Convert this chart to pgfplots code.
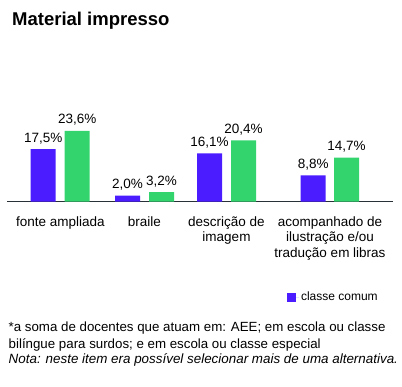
\documentclass[border=0pt]{standalone}
\usepackage{pgfplots}
\pgfplotsset{compat=1.18}
\usepackage{fontspec}
\setmainfont{Liberation Sans}
\definecolor{cblue}{RGB}{75,28,255}
\definecolor{cgreen}{RGB}{51,212,110}
\definecolor{axline}{RGB}{40,48,56}
\begin{document}
\begin{tikzpicture}
\path[use as bounding box] (0pt,0pt) rectangle (402pt,387pt);
\node[anchor=base west, inner sep=0pt, font=\fontsize{18.5}{20}\selectfont\bfseries] at (12pt,361pt) {Material impresso};
\begin{axis}[
  at={(7pt,185.3pt)}, anchor=south west,
  scale only axis, width=386pt, height=90pt,
  xmin=7, xmax=393, ymin=0, ymax=30,
  axis x line*=bottom, axis y line=none,
  x axis line style={axline, line width=0.9pt},
  ybar, bar width=25pt,
  xtick={60.3,144.5,226.5,330},
  xticklabels={fonte ampliada, braile, {descrição de\\imagem}, {acompanhado de\\ilustração e/ou\\tradução em libras}},
  x tick label style={align=center, font=\fontsize{13.5}{15.5}\selectfont, anchor=north, inner sep=0pt, yshift=-14.5pt},
  major tick length=0pt,
  /pgf/number format/assume math mode=true,
  nodes near coords={\pgfmathprintnumber[fixed,fixed zerofill,precision=1,use comma]{\pgfplotspointmeta}\%},
  every node near coord/.append style={anchor=base, yshift=7pt, inner sep=0pt, font=\fontsize{13.5}{15}\selectfont, black},
  legend style={at={(axis description cs:0.725,-1.06)}, anchor=west, draw=none, fill=none, font=\fontsize{12}{14}\selectfont, inner sep=0pt},
  legend image code/.code={\fill[#1] (0pt,-4.5pt) rectangle (9pt,4.5pt); \path (0pt,0pt) -- (12pt,0pt);},
  clip=false,
]
\addplot[fill=cblue, draw=none, bar shift=0pt] coordinates {(43.2,17.5) (127.5,2.0) (209.5,16.1) (313.2,8.8)};
\addlegendentry{classe comum}
\addplot[fill=cgreen, draw=none, bar shift=0pt, forget plot] coordinates {(77.2,23.6) (161.5,3.2) (243.5,20.4) (346.5,14.7)};
\end{axis}
\node[anchor=base west, inner sep=0pt, font=\fontsize{13.3}{15}\selectfont] at (8.5pt,55.3pt) {*a soma de docentes que atuam em: AEE; em escola ou classe};
\node[anchor=base west, inner sep=0pt, font=\fontsize{13.3}{15}\selectfont] at (8.5pt,38.7pt) {bilíngue para surdos; e em escola ou classe especial};
\node[anchor=base west, inner sep=0pt, font=\fontsize{13.4}{15}\selectfont\itshape] at (8.5pt,23pt) {Nota: neste item era possível selecionar mais de uma alternativa.};
\end{tikzpicture}
\end{document}
